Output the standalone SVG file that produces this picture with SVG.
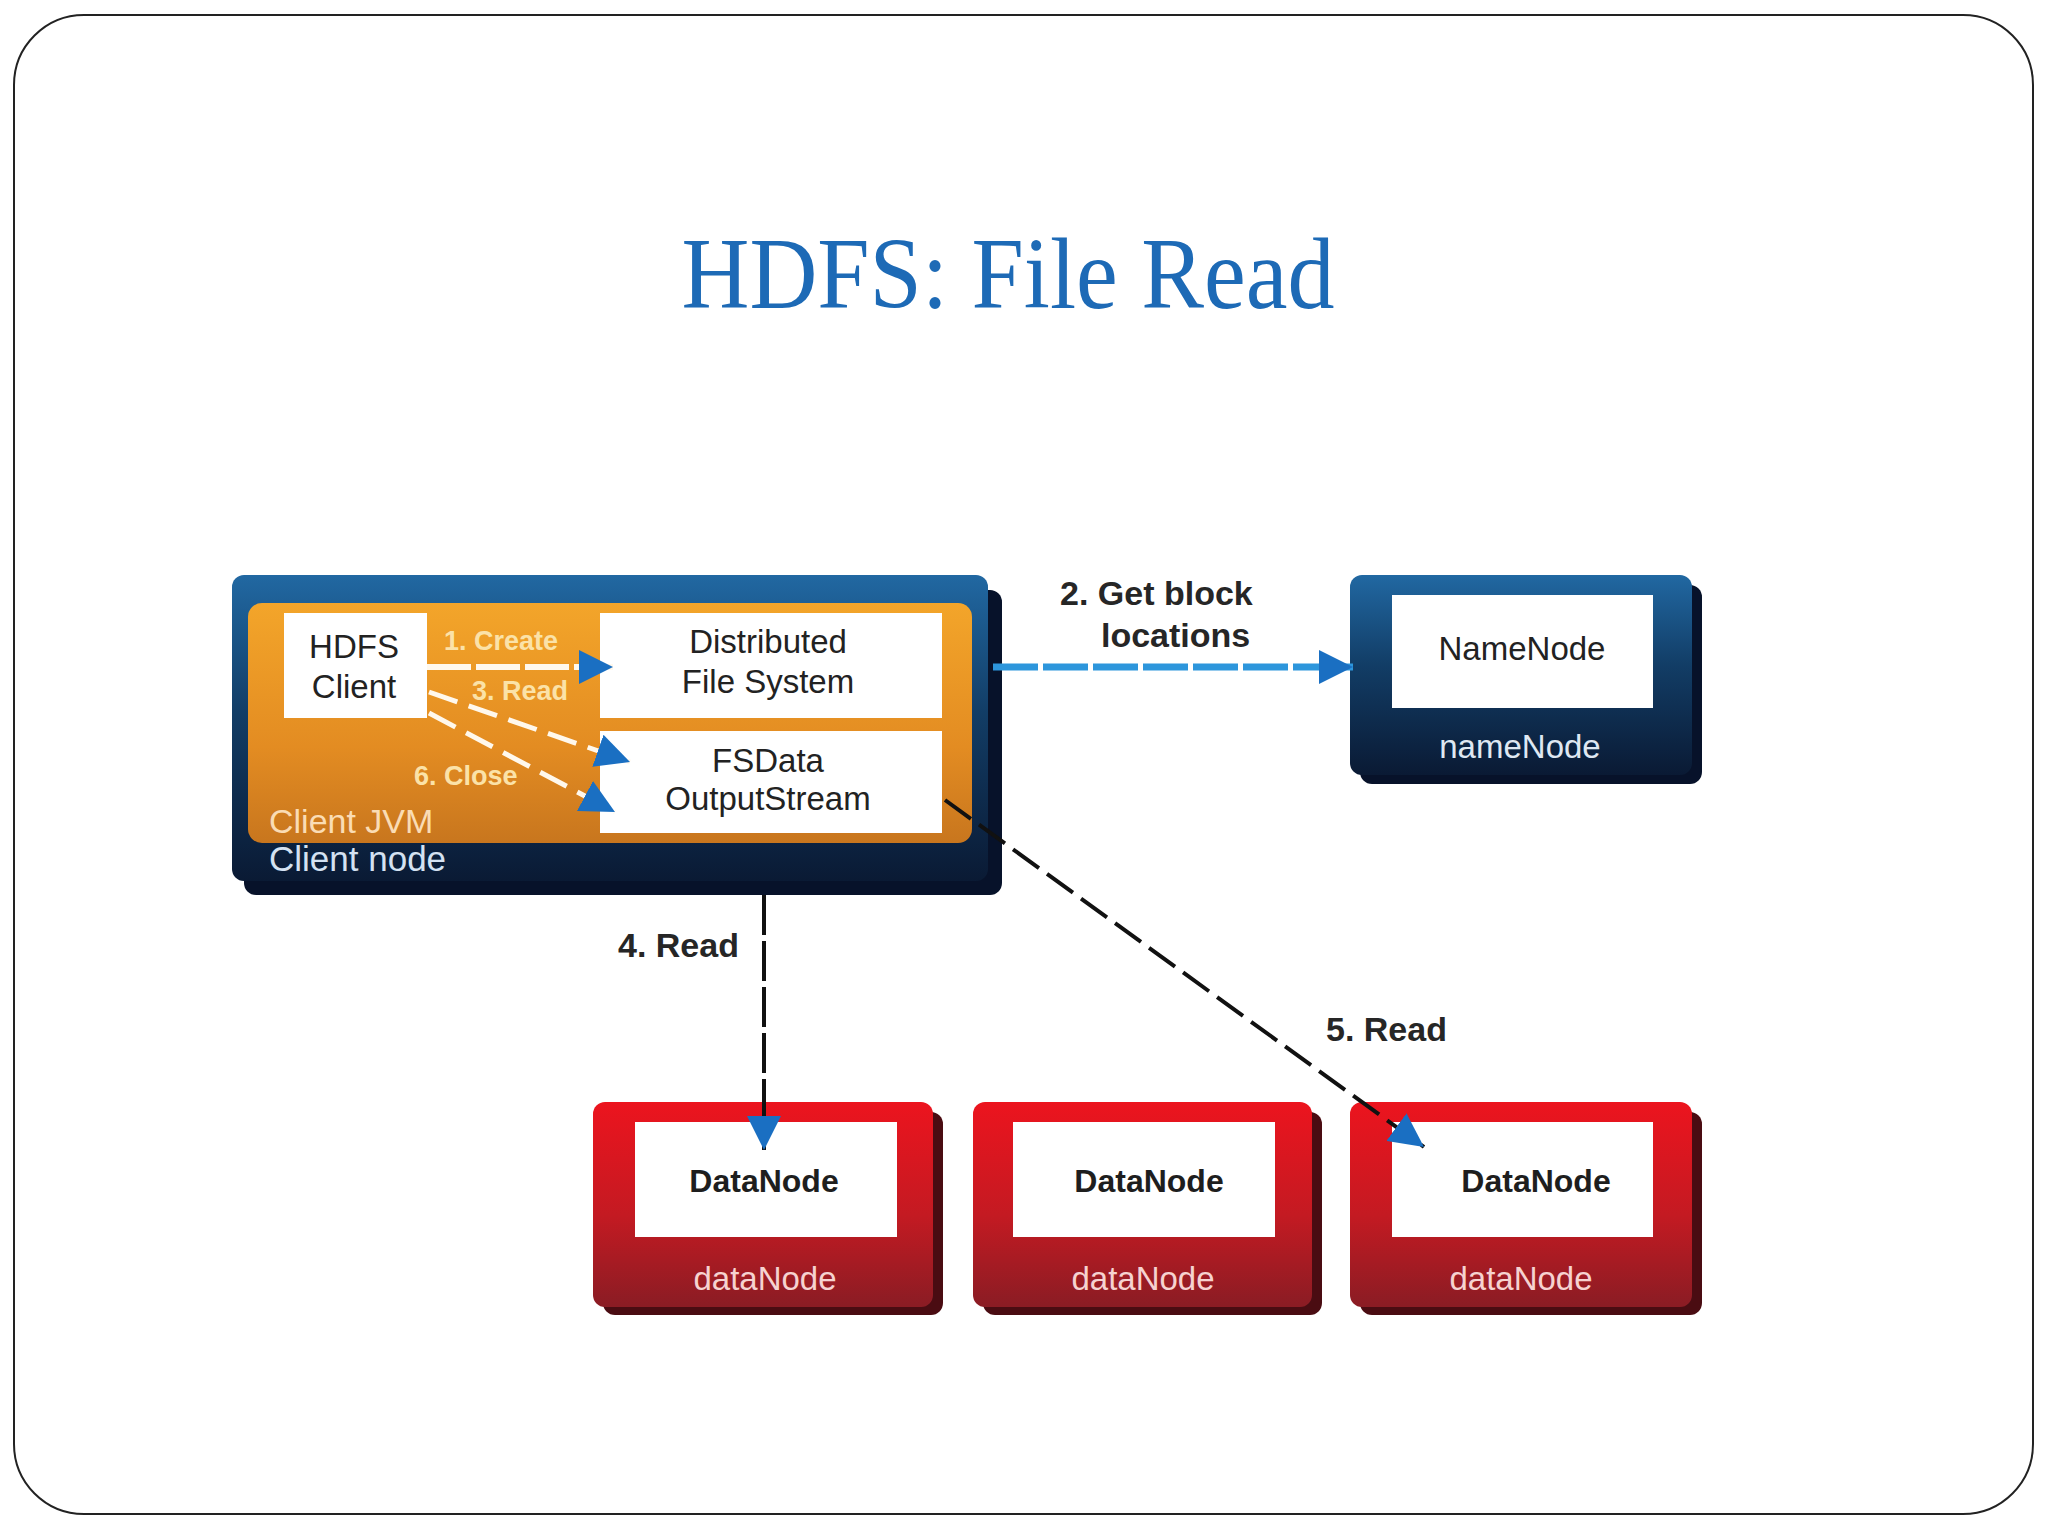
<svg xmlns="http://www.w3.org/2000/svg" width="2048" height="1536" viewBox="0 0 2048 1536">
  <defs>
    <linearGradient id="gBlue" x1="0" y1="0" x2="0" y2="1">
      <stop offset="0" stop-color="#2168a2"/>
      <stop offset="0.45" stop-color="#123d66"/>
      <stop offset="1" stop-color="#0a1a34"/>
    </linearGradient>
    <linearGradient id="gOrange" x1="0" y1="0" x2="0" y2="1">
      <stop offset="0" stop-color="#f3a52a"/>
      <stop offset="0.6" stop-color="#e38c22"/>
      <stop offset="1" stop-color="#c8761e"/>
    </linearGradient>
    <linearGradient id="gRed" x1="0" y1="0" x2="0" y2="1">
      <stop offset="0" stop-color="#ec141e"/>
      <stop offset="0.55" stop-color="#c41a22"/>
      <stop offset="1" stop-color="#8a1c24"/>
    </linearGradient>
    <marker id="arrBlue" viewBox="0 0 10 10" refX="10" refY="5" markerWidth="34" markerHeight="34" markerUnits="userSpaceOnUse" orient="auto">
      <path d="M0,0 L10,5 L0,10 z" fill="#1a6fc2"/>
    </marker>
    <style>
      .sans { font-family: "Liberation Sans", Arial, sans-serif; }
      .box { fill: #ffffff; }
      .inner { font-size: 33px; fill: #222222; text-anchor: middle; }
      .dn { font-size: 32px; font-weight: bold; fill: #1e1e1e; text-anchor: middle; }
      .lbl { font-size: 34px; font-weight: bold; fill: #262626; }
      .olbl { font-size: 27px; font-weight: bold; fill: #fbe2a8; }
      .shadowB { fill: #07122a; }
      .shadowR { fill: #4a0c12; }
    </style>
  </defs>

  <rect x="0" y="0" width="2048" height="1536" fill="#ffffff"/>
  <rect x="14" y="15" width="2019" height="1499" rx="70" ry="70" fill="#ffffff" stroke="#222222" stroke-width="2"/>

  <text x="1008" y="308" text-anchor="middle" textLength="653" lengthAdjust="spacingAndGlyphs" font-family="'Liberation Serif', 'Times New Roman', serif" font-size="102" fill="#1d6ab6">HDFS: File Read</text>

  <g id="client-node">
    <rect class="shadowB" x="244" y="590" width="758" height="305" rx="12"/>
    <rect x="232" y="575" width="756" height="306" rx="12" fill="url(#gBlue)"/>
    <rect x="248" y="603" width="724" height="240" rx="14" fill="url(#gOrange)"/>
    <text class="sans" x="269" y="871" font-size="35" fill="#d4e2f2">Client node</text>
    <text class="sans" x="269" y="833" font-size="34" fill="#fadcb4">Client JVM</text>
  </g>

  <g id="hdfs-client">
    <rect class="box" x="284" y="613" width="143" height="105"/>
    <text class="sans inner" x="354" y="658">HDFS</text>
    <text class="sans inner" x="354" y="698">Client</text>
  </g>

  <g id="distributed-fs">
    <rect class="box" x="600" y="613" width="342" height="105"/>
    <text class="sans inner" x="768" y="653">Distributed</text>
    <text class="sans inner" x="768" y="693">File System</text>
  </g>

  <g id="fsdata-stream">
    <rect class="box" x="600" y="731" width="342" height="102"/>
    <text class="sans inner" x="768" y="772">FSData</text>
    <text class="sans inner" x="768" y="810">OutputStream</text>
  </g>

  <g id="namenode">
    <rect class="shadowB" x="1360" y="585" width="342" height="199" rx="12"/>
    <rect x="1350" y="575" width="342" height="200" rx="12" fill="url(#gBlue)"/>
    <rect class="box" x="1392" y="595" width="261" height="113"/>
    <text class="sans inner" x="1522" y="660">NameNode</text>
    <text class="sans" x="1520" y="758" font-size="33" fill="#dfe8f2" text-anchor="middle">nameNode</text>
  </g>

  <g id="datanode-1">
    <rect class="shadowR" x="603" y="1112" width="340" height="203" rx="12"/>
    <rect x="593" y="1102" width="340" height="205" rx="12" fill="url(#gRed)"/>
    <rect class="box" x="635" y="1122" width="262" height="115"/>
    <text class="sans dn" x="764" y="1192">DataNode</text>
    <text class="sans" x="765" y="1290" font-size="33" fill="#f6d2d0" text-anchor="middle">dataNode</text>
  </g>

  <g id="datanode-2">
    <rect class="shadowR" x="983" y="1112" width="339" height="203" rx="12"/>
    <rect x="973" y="1102" width="339" height="205" rx="12" fill="url(#gRed)"/>
    <rect class="box" x="1013" y="1122" width="262" height="115"/>
    <text class="sans dn" x="1149" y="1192">DataNode</text>
    <text class="sans" x="1143" y="1290" font-size="33" fill="#f6d2d0" text-anchor="middle">dataNode</text>
  </g>

  <g id="datanode-3">
    <rect class="shadowR" x="1360" y="1112" width="342" height="203" rx="12"/>
    <rect x="1350" y="1102" width="342" height="205" rx="12" fill="url(#gRed)"/>
    <rect class="box" x="1392" y="1122" width="261" height="115"/>
    <text class="sans dn" x="1536" y="1192">DataNode</text>
    <text class="sans" x="1521" y="1290" font-size="33" fill="#f6d2d0" text-anchor="middle">dataNode</text>
  </g>

  <g id="connectors" fill="none">
    <line x1="427" y1="667" x2="613" y2="667" stroke="#fff8ec" stroke-width="6" stroke-dasharray="44 5" marker-end="url(#arrBlue)"/>
    <line x1="429" y1="692" x2="630" y2="762" stroke="#fff8ec" stroke-width="5" stroke-dasharray="30 12" marker-end="url(#arrBlue)"/>
    <line x1="429" y1="713" x2="615" y2="812" stroke="#fff8ec" stroke-width="5" stroke-dasharray="30 12" marker-end="url(#arrBlue)"/>
    <line x1="993" y1="667" x2="1353" y2="667" stroke="#2d96dc" stroke-width="7" stroke-dasharray="45 5" marker-end="url(#arrBlue)"/>
    <line x1="764" y1="895" x2="764" y2="1150" stroke="#111111" stroke-width="4" stroke-dasharray="40 6" marker-end="url(#arrBlue)"/>
    <line x1="945" y1="800" x2="1424" y2="1147" stroke="#111111" stroke-width="4" stroke-dasharray="32 10" marker-end="url(#arrBlue)"/>
  </g>

  <g id="labels" class="sans">
    <text class="olbl" x="444" y="650">1. Create</text>
    <text class="olbl" x="472" y="700">3. Read</text>
    <text class="olbl" x="414" y="785">6. Close</text>
    <text class="lbl" x="1060" y="605">2. Get block</text>
    <text class="lbl" x="1101" y="647">locations</text>
    <text class="lbl" x="618" y="957">4. Read</text>
    <text class="lbl" x="1326" y="1041">5. Read</text>
  </g>
</svg>
